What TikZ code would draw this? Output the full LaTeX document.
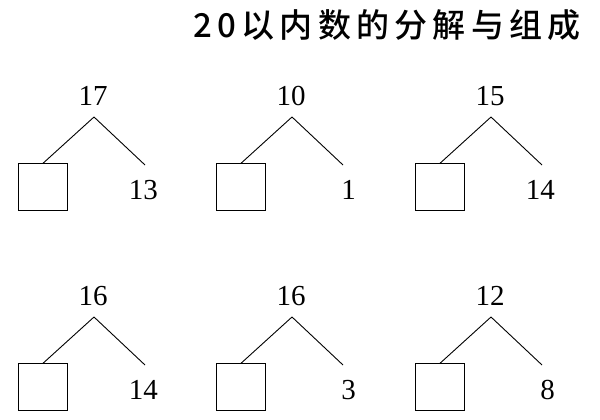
\documentclass[tikz,border=0pt]{standalone}
\usepackage{fontspec}
\setmainfont{Liberation Serif}
\newfontfamily\cjk[LetterSpace=16]{Noto Sans CJK SC Medium}
\usetikzlibrary{positioning}
\tikzset{
  mynum/.style={
    font=\fontsize{29}{34}\selectfont,
    inner sep=0pt,
  },
  mybox/.style={
    draw=black,
    shape=rectangle,
    minimum width=49pt,
    minimum height=47pt,
    inner sep=0pt,
  },
  myline/.style={
    draw=black,
    line width=0.9pt,
  }
}
\begin{document}
\begin{tikzpicture}[x=1pt,y=1pt]
    \useasboundingbox (0,0) rectangle (600,-420);

    \node [font=\cjk\fontsize{33}{38}\selectfont, anchor=east, inner sep=0pt] (title) at (581,-25) {20以内数的分解与组成};

    % Six decompositions
    \foreach \i/\x/\y/\top/\part in {a/0/0/17/13, b/198/0/10/1, c/397/0/15/14,
                                     d/0/-200/16/14, e/198/-200/16/3, f/397/-200/12/8} {
      \node [mynum] (top\i) at (\x+93, \y-96) {\top};
      \coordinate (apex\i) at (\x+94, \y-117);
      \node [mybox] (box\i) at (\x+43, \y-187) {};
      \node [mynum, anchor=east] (part\i) at (\x+158, \y-190) {\part};
      \coordinate (end\i) at (\x+145, \y-165);
      \draw [myline] (apex\i) -- (box\i.north);
      \draw [myline] (apex\i) -- (end\i);
    }
\end{tikzpicture}
\end{document}
